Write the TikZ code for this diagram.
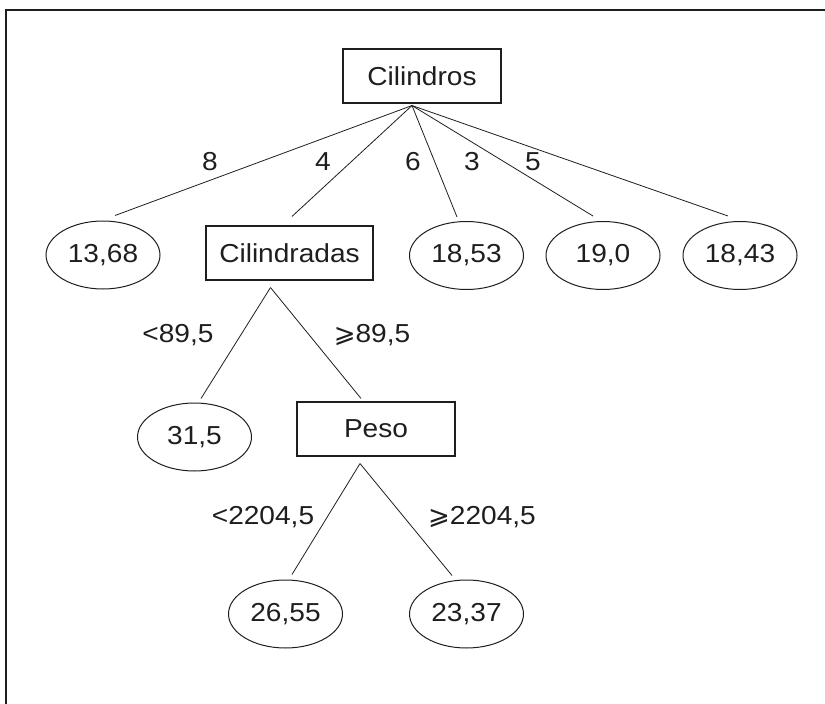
\documentclass[tikz,border=0pt]{standalone}
\usepackage{fontspec}
\setmainfont{Liberation Sans}[FakeStretch=1.08]
\newfontfamily\symfont{DejaVu Sans}
\usetikzlibrary{shapes.geometric,calc}

\definecolor{ink}{HTML}{1E1E1E}
\newcommand{\geslant}{{\symfont ⩾}}

\begin{document}
\begin{tikzpicture}[x=1pt,y=-1pt,
  every node/.style={font=\fontsize{26}{30}\selectfont, text=ink},
  split/.style={draw=ink, line width=1.1pt, rectangle, minimum height=54pt, inner sep=0pt},
  leaf/.style={draw=ink, line width=1pt, ellipse, minimum width=114pt, minimum height=68pt, inner sep=0pt},
  branch/.style={draw=ink, line width=0.8pt},
  lbl/.style={inner sep=0pt}]

\useasboundingbox (0,0) rectangle (825,704);

% outer frame (top and left edges)
\draw[ink, line width=1.4pt] (825,10) -- (6,10) -- (6,704);

% decision nodes
\node[split, minimum width=158pt] (cil)  at (422,76)    {Cilindros};
\node[split, minimum width=167pt] (cilr) at (289.5,253) {Cilindradas};
\node[split, minimum width=158pt] (peso) at (376,429)   {Peso};

% leaves
\node[leaf] (e1368) at (103,255)   {13,68};
\node[leaf] (e1853) at (466.5,255.5) {18,53};
\node[leaf] (e190)  at (603,255.5) {19,0};
\node[leaf] (e1843) at (740,255.5) {18,43};
\node[leaf] (e315)  at (194.5,437) {31,5};
\node[leaf] (e2655) at (285.5,614) {26,55};
\node[leaf] (e2337) at (466.5,614) {23,37};

% branching points just below each split
\coordinate (cilA)  at ($(cil.south)+(-10,2)$);
\coordinate (cilrA) at ($(cilr.south)+(-19,7)$);
\coordinate (pesoA) at ($(peso.south)+(-16,7)$);

% branches
\draw[branch] (cilA) -- ($(e1368.north)+(12,-5)$);
\draw[branch] (cilA) -- ($(cilr.north)+(2.5,-9)$);
\draw[branch] (cilA) -- ($(e1853.north)+(-9.5,-4)$);
\draw[branch] (cilA) -- ($(e190.north)+(-10,-5)$);
\draw[branch] (cilA) -- ($(e1843.north)+(-12,-5)$);
\draw[branch] (cilrA) -- ($(e315.north)+(6.5,-4)$);
\draw[branch] (cilrA) -- ($(peso.north)+(-15,-3)$);
\draw[branch] (pesoA) -- ($(e2655.north)+(6.5,-5)$);
\draw[branch] (pesoA) -- ($(e2337.north)+(-14.5,-4)$);

% branch labels
\node[lbl] (l8) at (210,162) {8};
\node[lbl] (l4) at (323,162) {4};
\node[lbl] (l6) at (413,162) {6};
\node[lbl] (l3) at (472,162) {3};
\node[lbl] (l5) at (533,162) {5};
\node[lbl] (lt1) at (178,335) {<89,5};
\node[lbl] (ge1) at (372,335) {\geslant89,5};
\node[lbl] (lt2) at (263,517) {<2204,5};
\node[lbl] (ge2) at (482,517) {\geslant2204,5};
\end{tikzpicture}
\end{document}
